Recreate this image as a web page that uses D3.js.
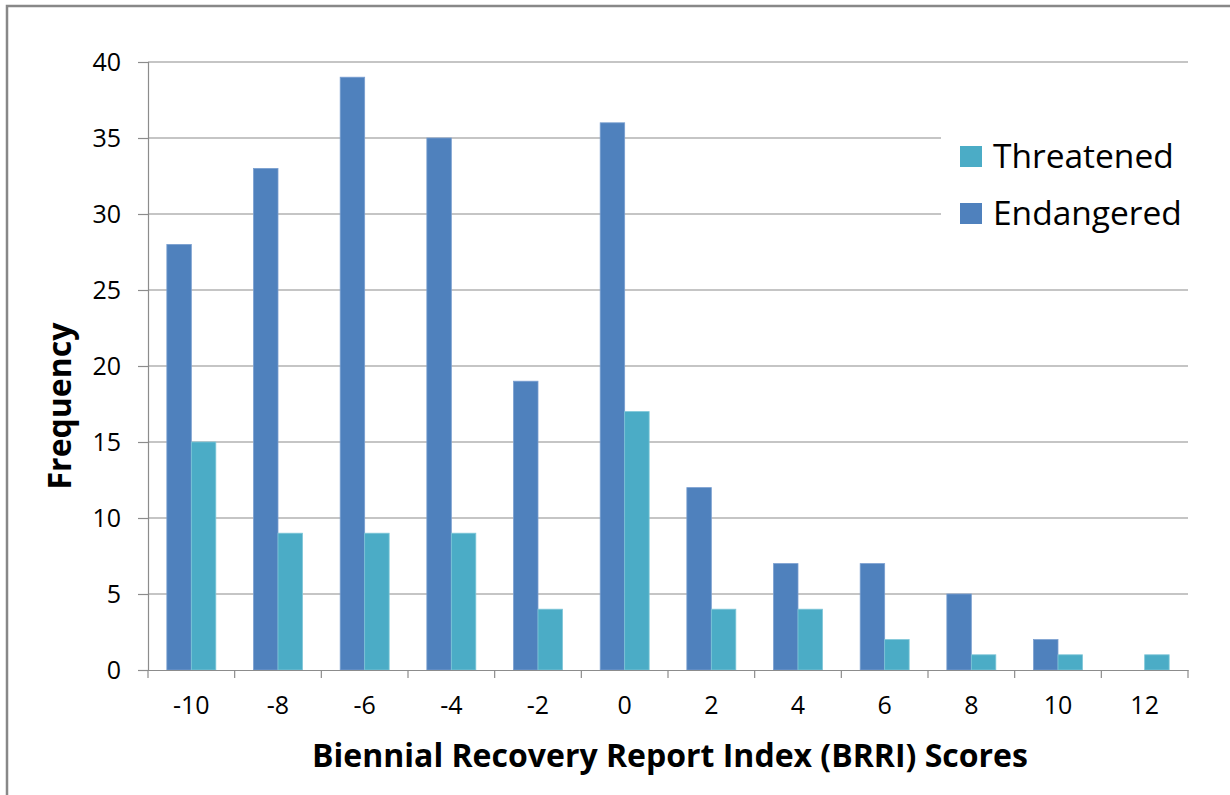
<!DOCTYPE html>
<html>
<head>
<meta charset="utf-8">
<script src="https://cdn.jsdelivr.net/npm/d3@7"></script>
<style>
  body { margin: 0; background: #fff; }
  svg { display: block; font-family: "Open Sans", Lato, sans-serif; }
</style>
</head>
<body>
<svg id="chart" width="1230" height="795"></svg>
<script>
var scores = [-10, -8, -6, -4, -2, 0, 2, 4, 6, 8, 10, 12];
var endangered = [28, 33, 39, 35, 19, 36, 12, 7, 7, 5, 2, 0];
var threatened = [15, 9, 9, 9, 4, 17, 4, 4, 2, 1, 1, 1];
var yTicks = [0, 5, 10, 15, 20, 25, 30, 35, 40];
var seriesNames = ["Endangered", "Threatened"];
var legendNames = ["Threatened", "Endangered"];

var colors = { Endangered: "#4F81BD", Threatened: "#4BACC6" };
var strokes = { Endangered: "#7A9FD0", Threatened: "#7DC6D8" };
var fontFamily = "'Open Sans', Lato, sans-serif";

var svg = d3.select("#chart");
var margin = { top: 62, right: 42, bottom: 125, left: 148 },
  width = 1230 - margin.left - margin.right,
  height = 795 - margin.top - margin.bottom;

// chart frame
svg.append("rect")
  .attr("x", 7).attr("y", 6)
  .attr("width", 1240).attr("height", 800)
  .attr("fill", "#fff")
  .attr("stroke", "#888").attr("stroke-width", 2.5);

var g = svg.append("g").attr("transform", "translate(" + margin.left + "," + margin.top + ")");

var x = d3.scaleBand().domain(scores).range([0, width]).padding(0);
var x1 = d3.scaleBand().domain(seriesNames).range([0, x.bandwidth()]).paddingInner(0).paddingOuter(0.77);
var y = d3.scaleLinear().domain([0, 40]).range([height, 0]);

// gridlines
g.append("g").selectAll("line")
  .data(yTicks.slice(1))
  .enter().append("line")
  .attr("x1", 0).attr("x2", width)
  .attr("y1", function(d) { return y(d); })
  .attr("y2", function(d) { return y(d); })
  .attr("stroke", "#8c8c8c").attr("stroke-width", 1.2);

// bars
var rows = scores.map(function(s, i) {
  return { score: s, Endangered: endangered[i], Threatened: threatened[i] };
});

g.append("g").selectAll("g")
  .data(rows)
  .enter().append("g")
  .attr("transform", function(d) { return "translate(" + x(d.score) + ",0)"; })
  .selectAll("rect")
  .data(function(d) { return seriesNames.map(function(k) { return { key: k, value: d[k] }; }); })
  .enter().append("rect")
  .attr("x", function(d) { return x1(d.key); })
  .attr("width", x1.bandwidth())
  .attr("y", function(d) { return y(d.value); })
  .attr("height", function(d) { return height - y(d.value); })
  .attr("fill", function(d) { return colors[d.key]; })
  .attr("stroke", function(d) { return d.value > 0 ? strokes[d.key] : "none"; })
  .attr("stroke-width", 0.8);

// y axis
var yAxis = g.append("g")
  .call(d3.axisLeft(y).tickValues(yTicks).tickSize(10).tickPadding(17));
yAxis.attr("font-family", fontFamily);
yAxis.select(".domain").attr("stroke", "#8c8c8c").attr("stroke-width", 1.2);
yAxis.selectAll(".tick line").attr("stroke", "#8c8c8c").attr("stroke-width", 1.2);
yAxis.selectAll("text").attr("font-size", 25).attr("fill", "#000");

// x axis: labels at centers, ticks at band edges
var xAxis = g.append("g")
  .attr("transform", "translate(0," + height + ")")
  .call(d3.axisBottom(x).tickSize(0).tickPadding(26));
xAxis.attr("font-family", fontFamily);
xAxis.select(".domain").attr("stroke", "#8c8c8c").attr("stroke-width", 1.2);
xAxis.selectAll("text").attr("font-size", 25).attr("fill", "#000");
xAxis.selectAll(".edge")
  .data(d3.range(scores.length + 1))
  .enter().append("line")
  .attr("class", "edge")
  .attr("x1", function(i) { return i * x.step(); })
  .attr("x2", function(i) { return i * x.step(); })
  .attr("y1", 0).attr("y2", 8)
  .attr("stroke", "#8c8c8c").attr("stroke-width", 1.2);

// axis titles
svg.append("text")
  .attr("x", 670).attr("y", 767)
  .attr("text-anchor", "middle")
  .attr("font-size", 32).attr("font-weight", "bold")
  .text("Biennial Recovery Report Index (BRRI) Scores");

svg.append("text")
  .attr("transform", "translate(71,406) rotate(-90)")
  .attr("text-anchor", "middle")
  .attr("font-size", 32).attr("font-weight", "bold")
  .text("Frequency");

// legend
var legend = svg.append("g").attr("transform", "translate(941,124)");
legend.append("rect")
  .attr("width", 250).attr("height", 116)
  .attr("fill", "#fff");
var item = legend.selectAll(".item")
  .data(legendNames)
  .enter().append("g")
  .attr("class", "item")
  .attr("transform", function(d, i) { return "translate(0," + (i * 57) + ")"; });
item.append("rect")
  .attr("x", 19).attr("y", 22)
  .attr("width", 22).attr("height", 21)
  .attr("fill", function(d) { return colors[d]; });
item.append("text")
  .attr("x", 52).attr("y", 44)
  .attr("font-size", 33.5)
  .attr("fill", "#000")
  .text(function(d) { return d; });
</script>
</body>
</html>
